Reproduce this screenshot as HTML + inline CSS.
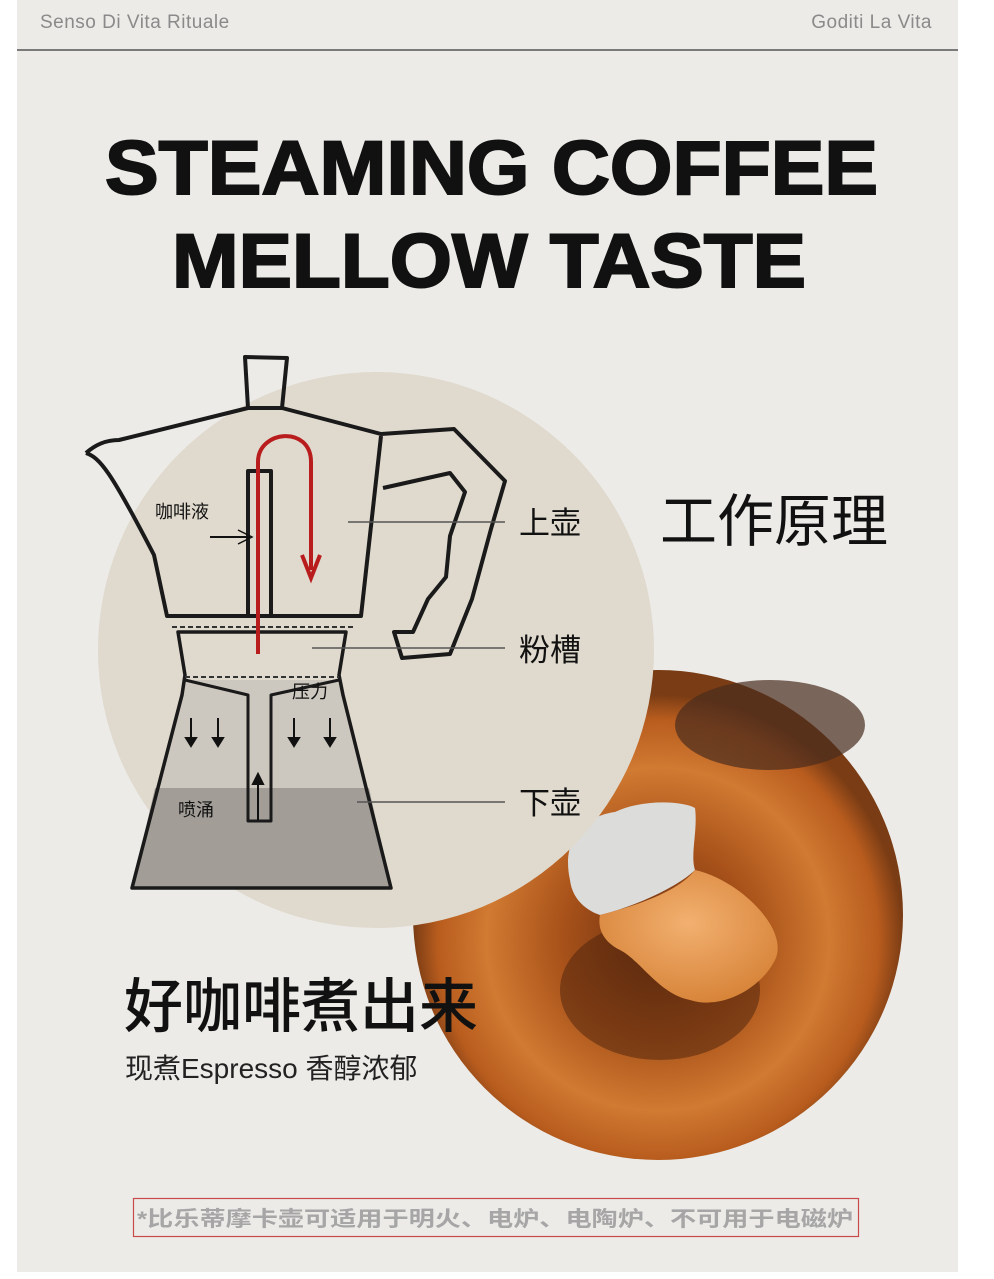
<!DOCTYPE html>
<html><head><meta charset="utf-8"><style>
html,body{margin:0;padding:0;background:#fff;}
body{width:994px;height:1279px;position:relative;overflow:hidden;font-family:"Liberation Sans","Noto Sans CJK SC",sans-serif;}
</style></head><body>
<svg width="994" height="1279" viewBox="0 0 994 1279" xmlns="http://www.w3.org/2000/svg" style="position:absolute;left:0;top:0">
<defs>
<radialGradient id="cof" cx="0.5" cy="0.55" r="0.5">
<stop offset="0" stop-color="#6a3010"/>
<stop offset="0.4" stop-color="#a9521a"/>
<stop offset="0.7" stop-color="#d07a32"/>
<stop offset="0.9" stop-color="#b85c1e"/>
<stop offset="1" stop-color="#7a3c14"/>
</radialGradient>
<radialGradient id="blob" cx="0.5" cy="0.4" r="0.6">
<stop offset="0" stop-color="#f2b070"/>
<stop offset="1" stop-color="#d8853a"/>
</radialGradient>
</defs>
<rect x="17" y="0" width="941" height="1272" fill="#ecebe8"/>
<text x="40" y="28" font-size="19" fill="#8a8a8a" font-family="Liberation Sans,sans-serif" letter-spacing="0.5">Senso Di Vita Rituale</text>
<text x="932" y="28" font-size="19" fill="#8a8a8a" text-anchor="end" font-family="Liberation Sans,sans-serif" letter-spacing="0.5">Goditi La Vita</text>
<line x1="17" y1="50" x2="958" y2="50" stroke="#555" stroke-width="1.5"/>
<text x="105" y="194" font-size="76" font-weight="900" fill="#111" stroke="#111" stroke-width="2" textLength="773" lengthAdjust="spacingAndGlyphs" font-family="Liberation Sans,sans-serif">STEAMING COFFEE</text>
<text x="172" y="287" font-size="76" font-weight="900" fill="#111" stroke="#111" stroke-width="2" textLength="634" lengthAdjust="spacingAndGlyphs" font-family="Liberation Sans,sans-serif">MELLOW TASTE</text>

<!-- coffee circle -->
<circle cx="658" cy="915" r="245" fill="url(#cof)"/>
<ellipse cx="770" cy="725" rx="95" ry="45" fill="#4a2c1e" opacity="0.7"/>
<ellipse cx="660" cy="990" rx="100" ry="70" fill="#4a220c" opacity="0.5"/>
<path d="M570,880 C560,835 590,815 615,812 C640,800 680,800 695,808 C698,830 690,855 695,870 C680,885 640,905 600,915 C585,910 572,898 570,880Z" fill="#dcdcda"/>
<path d="M600,915 C640,905 680,890 695,870 C740,880 790,930 775,960 C760,990 720,1010 690,1000 C660,995 640,960 620,950 C600,940 598,925 600,915Z" fill="url(#blob)"/>

<!-- beige circle -->
<circle cx="376" cy="650" r="278" fill="#e0d9cd"/>

<!-- pot fills -->
<path d="M185,680 L182,695 L132,888 L391,888 L343,695 L339,680Z" fill="#cdc8bf"/>
<path d="M155,788 L132,888 L391,888 L369,788Z" fill="#a29e97"/>
<g fill="none" stroke="#1a1a1a" stroke-width="4" stroke-linejoin="round">
<path d="M248,408 L245,357 L287,358 L282,408"/>
<path d="M86,453 C95,445 105,440 119,440 L248,408 L282,408 L381,434 L454,429 L505,481 L491,529 L472,599 L450,654 L402,658 L394,632 L413,632 L428,599 L446,577 L450,536 L465,492 L450,473 L383,488"/>
<path d="M86,453 C100,458 110,470 154,555 L167,616 L361,616 L381,436"/>
<path d="M248,616 L248,471 L271,471 L271,616"/>
<path d="M178,632 L346,632 L339,675 L343,695 L391,888 L132,888 L182,695 L185,675 Z" stroke-width="3.5"/>
<path d="M185,680 L248,695 L248,821 L271,821 L271,695 L339,680" stroke-width="3"/>
</g>
<line x1="172" y1="627" x2="354" y2="627" stroke="#333" stroke-width="2" stroke-dasharray="5,3"/>
<line x1="185" y1="677" x2="339" y2="677" stroke="#333" stroke-width="2" stroke-dasharray="5,3"/>
<!-- red arrow -->
<path d="M258,654 L258,462 C258,430 311,425 311,462 L311,570" fill="none" stroke="#b81c1c" stroke-width="4"/>
<path d="M302,555 L311,578 L320,555" fill="none" stroke="#b81c1c" stroke-width="4"/>
<!-- small arrows -->
<g stroke="#111" stroke-width="2" fill="#111">
<line x1="191" y1="718" x2="191" y2="742"/><path d="M186,738 L191,746 L196,738Z"/>
<line x1="218" y1="718" x2="218" y2="742"/><path d="M213,738 L218,746 L223,738Z"/>
<line x1="294" y1="718" x2="294" y2="742"/><path d="M289,738 L294,746 L299,738Z"/>
<line x1="330" y1="718" x2="330" y2="742"/><path d="M325,738 L330,746 L335,738Z"/>
<line x1="258" y1="820" x2="258" y2="780"/><path d="M253,784 L258,774 L263,784Z"/>
<line x1="210" y1="537" x2="250" y2="537"/>
</g>
<path d="M238,530 L252,537 L238,544" fill="none" stroke="#111" stroke-width="1.5"/>
<g stroke="#555" stroke-width="1.5">
<line x1="348" y1="522" x2="505" y2="522"/>
<line x1="312" y1="648" x2="505" y2="648"/>
<line x1="357" y1="802" x2="505" y2="802"/>
</g>
<g font-family="Liberation Sans,Noto Sans CJK SC,sans-serif" fill="#111">
<text x="155" y="518" font-size="18">咖啡液</text>
<text x="292" y="698" font-size="18">压力</text>
<text x="178" y="816" font-size="18">喷涌</text>
<text x="519" y="534" font-size="31">上壶</text>
<text x="519" y="661" font-size="31">粉槽</text>
<text x="519" y="814" font-size="31">下壶</text>
<text x="660" y="541" font-size="57">工作原理</text>
<text x="124" y="1027" font-size="59" font-weight="500">好咖啡煮出来</text>
<text x="125" y="1078" font-size="28" fill="#222">现煮Espresso 香醇浓郁</text>
</g>
<rect x="133.5" y="1198.5" width="725" height="38" fill="none" stroke="#c84a4a" stroke-width="1.2"/>
<text x="137" y="1226" font-size="21" font-weight="bold" fill="#a6a6a6" textLength="716" lengthAdjust="spacingAndGlyphs" font-family="Liberation Sans,Noto Sans CJK SC,sans-serif">*比乐蒂摩卡壶可适用于明火、电炉、电陶炉、不可用于电磁炉</text>
</svg>
</body></html>
